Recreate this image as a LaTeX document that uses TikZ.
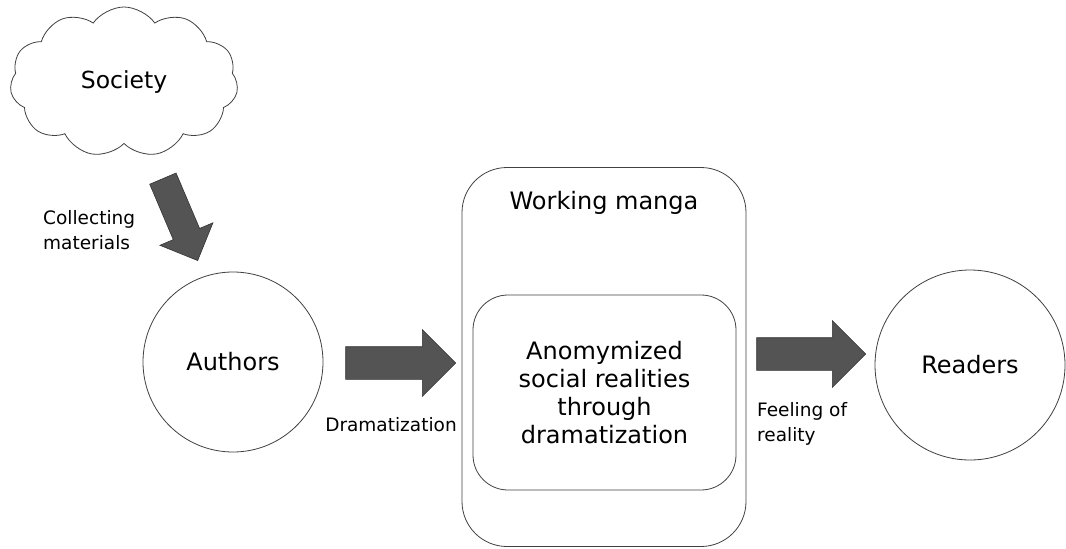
\documentclass[tikz,border=0pt]{standalone}
\usepackage{fontspec}
\setmainfont{DejaVu Sans}
\usepackage{tikz}
\usetikzlibrary{positioning, shapes.symbols, shapes.arrows}
\tikzset{Actor/.style={%
    shape=circle,%
    draw=black!75,%
    fill=white,%
    line width=0.8pt,%
    inner sep=0pt,%
    font=\fontsize{24}{28}\selectfont,%
}}
\tikzset{SourceCloud/.style={%
    shape=cloud,%
    draw=black!75,%
    fill=white,%
    line width=0.8pt,%
    cloud puffs=11,%
    cloud puff arc=110,%
    aspect=1.5,%
    minimum width=228pt,%
    minimum height=150pt,%
    inner sep=0pt,%
    font=\fontsize{23.5}{28}\selectfont,%
}}
\tikzset{Container/.style={%
    shape=rectangle,%
    draw=black!75,%
    line width=0.8pt,%
    inner sep=0pt,%
    align=center,%
    font=\fontsize{24}{28}\selectfont,%
}}
\tikzset{BlockArrow/.style={%
    shape=single arrow,%
    draw=black!80,%
    fill=black!67,%
    line width=0.6pt,%
    inner sep=0pt,%
    single arrow tip angle=90,%
    single arrow head indent=0pt,%
}}
\tikzset{StepLabel/.style={%
    align=left,%
    inner sep=0pt,%
    font=\fontsize{18.5}{24.5}\selectfont,%
}}
\NewDocumentCommand{\shaft}{m}{\rule{0pt}{#1}}

\begin{document}
\begin{tikzpicture}[x=1pt, y=-1pt]
    \useasboundingbox (0,0) rectangle (1066,549);

    \node[SourceCloud] (society) at (124,82) {Society};
    \node[Actor, minimum size=180pt] (authors) at (233,362) {Authors};
    \node[Container, rounded corners=45pt, minimum width=284pt, minimum height=379pt] (manga) at (604,357) {};
    \node[Container, draw=none] (mangaTitle) at (604,203) {Working manga};
    \node[Container, rounded corners=35pt, minimum width=263pt, minimum height=195pt] (reality) at (604.5,392.5)
        {Anomymized\\social realities\\through\\dramatization};
    \node[Actor, minimum size=190pt] (readers) at (970,365) {Readers};

    % block arrows between the stages
    \node[BlockArrow, rotate=-67, minimum height=89pt,
        single arrow head extend=14.5pt] (gather) at (177.5,213) {\shaft{28pt}};
    \node[BlockArrow, anchor=tail, xshift=22pt, yshift=-1pt, minimum height=110pt,
        single arrow head extend=17pt] (drama) at (authors.east) {\shaft{32pt}};
    \node[BlockArrow, anchor=tail, xshift=10pt, yshift=3pt, minimum height=109pt,
        single arrow head extend=17pt] (feel) at (manga.east) {\shaft{32pt}};

    \node[StepLabel, anchor=west] (gatherLabel) at (43,230) {Collecting\\materials};
    \node[StepLabel] (dramaLabel) at (391,425) {Dramatization};
    \node[StepLabel, anchor=west] (feelLabel) at (757,424) {Feeling of\\reality};
\end{tikzpicture}
\end{document}
